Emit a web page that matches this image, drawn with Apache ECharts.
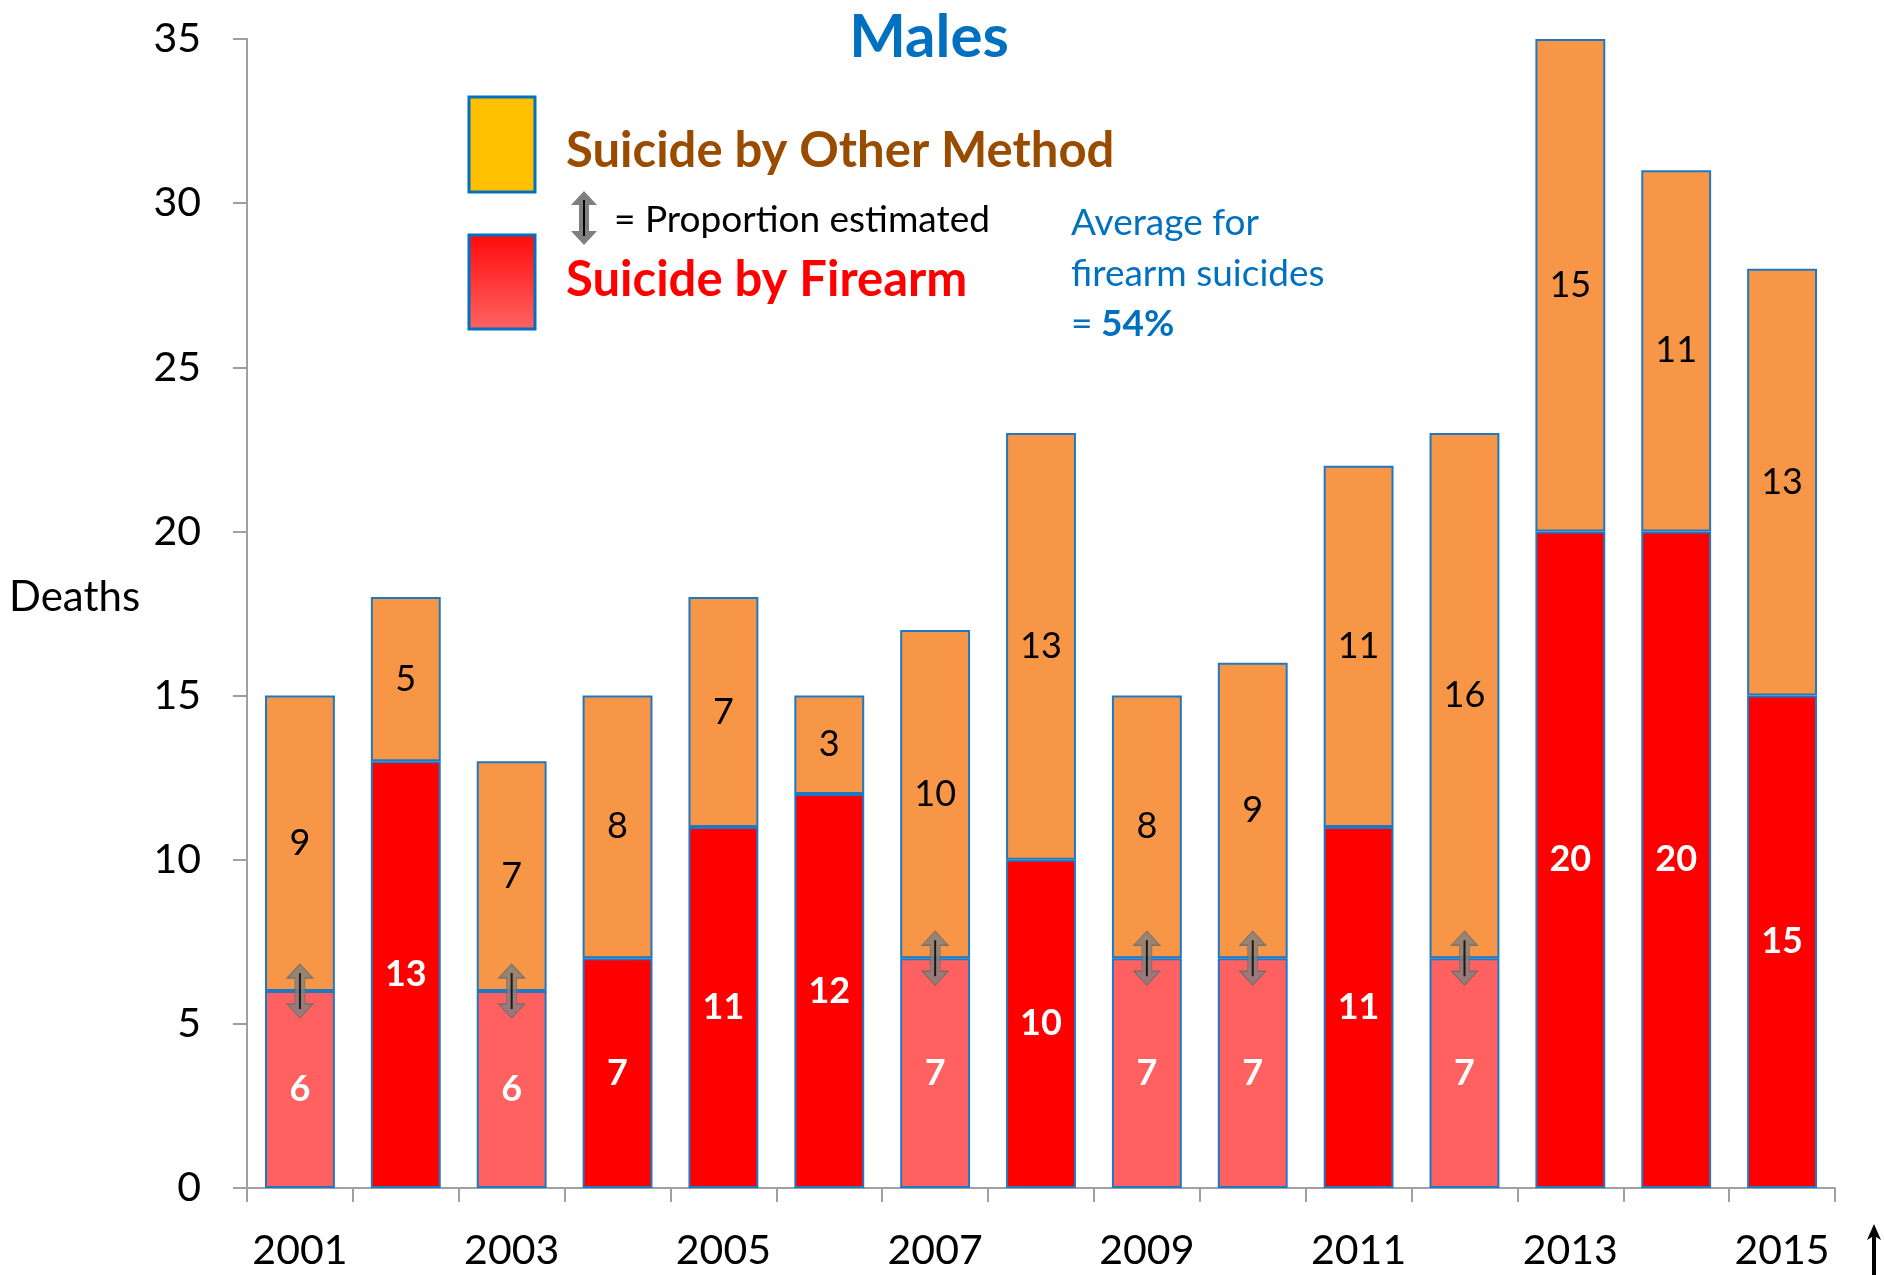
<!DOCTYPE html>
<html>
<head>
<meta charset="utf-8">
<script src="https://cdn.jsdelivr.net/npm/echarts@6/dist/echarts.min.js"></script>
<style>
  html, body { margin: 0; padding: 0; background: #fff; }
  #chart { width: 1884px; height: 1275px; }
</style>
</head>
<body>
<div id="chart"></div>
<script>
// data
const years = ['2001', '2002', '2003', '2004', '2005', '2006', '2007', '2008',
  '2009', '2010', '2011', '2012', '2013', '2014', '2015']
const firearm = [6, 13, 6, 7, 11, 12, 7, 10, 7, 7, 11, 7, 20, 20, 15]
const other = [9, 5, 7, 8, 7, 3, 10, 13, 8, 9, 11, 16, 15, 11, 13]
// years where the firearm proportion was estimated
const estimated = ['2001', '2003', '2007', '2009', '2010', '2012']
const yTicks = [0, 5, 10, 15, 20, 25, 30, 35]

const FONT = 'Lato, "Open Sans", sans-serif'
const BLUE = '#0070C0'
const BORDER = '#1F78C4'

const chart = echarts.init(document.getElementById('chart'))

const firearmData = firearm.map((v, i) => ({
  value: v,
  itemStyle: { color: estimated.includes(years[i]) ? '#FF6060' : '#FF0000' }
}))
const arrowData = estimated.map(y => [y, firearm[years.indexOf(y)]])

const arrowPath = 'path://M13,0 L26,14 L18,14 L18,40 L26,40 L13,54 L0,40 L8,40 L8,14 L0,14 Z'
const linePath = 'path://M0,0 L2,0 L2,36 L0,36 Z'

// legend arrow as polygon points (offset 571,191)
const legendArrow = [[13, 0], [26, 14], [18, 14], [18, 40], [26, 40], [13, 54], [0, 40], [8, 40], [8, 14], [0, 14]]
  .map(p => [p[0] + 571, p[1] + 191])

const option = {
  animation: false,
  textStyle: { fontFamily: FONT },
  grid: { left: 247, top: 39, right: 49, bottom: 87, containLabel: false },
  xAxis: {
    type: 'category',
    data: years,
    axisLine: { lineStyle: { color: '#A0A0A0', width: 2 } },
    axisTick: { show: true, interval: 0, length: 14, lineStyle: { color: '#A0A0A0', width: 2 } },
    axisLabel: { interval: 1, color: '#000', fontSize: 41, margin: 42, fontFamily: FONT }
  },
  yAxis: {
    type: 'value',
    min: 0,
    max: yTicks[yTicks.length - 1],
    interval: 5,
    splitLine: { show: false },
    axisLine: { show: true, lineStyle: { color: '#A0A0A0', width: 2 } },
    axisTick: { show: true, length: 14, lineStyle: { color: '#A0A0A0', width: 2 } },
    axisLabel: { color: '#000', fontSize: 41, margin: 46, fontFamily: FONT }
  },
  series: [
    {
      name: 'Suicide by Firearm',
      type: 'bar',
      stack: 'deaths',
      barCategoryGap: '34%',
      data: firearmData,
      itemStyle: { borderColor: BORDER, borderWidth: 2 },
      label: {
        show: true, position: 'inside', color: '#fff',
        fontWeight: 'bold', fontSize: 36, fontFamily: FONT
      }
    },
    {
      name: 'Suicide by Other Method',
      type: 'bar',
      stack: 'deaths',
      data: other,
      itemStyle: { color: '#F79646', borderColor: BORDER, borderWidth: 2 },
      label: {
        show: true, position: 'inside', color: '#000',
        fontSize: 36, fontFamily: FONT
      }
    },
    {
      type: 'scatter',
      data: arrowData,
      symbol: arrowPath,
      symbolSize: [26, 54],
      itemStyle: { color: '#7F7F7F', borderColor: '#6A6A6A', borderWidth: 1 },
      z: 5
    },
    {
      type: 'scatter',
      data: arrowData,
      symbol: linePath,
      symbolSize: [2, 36],
      itemStyle: { color: '#000' },
      z: 6
    }
  ],
  graphic: [
    {
      type: 'text', x: 929, y: 38,
      style: { text: 'Males', fill: BLUE, font: 'bold 60px ' + FONT, align: 'center', verticalAlign: 'middle' }
    },
    {
      type: 'text', x: 9, y: 597,
      style: { text: 'Deaths', fill: '#000', font: '42px ' + FONT, verticalAlign: 'middle' }
    },
    // legend boxes
    {
      type: 'rect', shape: { x: 469, y: 97, width: 66, height: 95 },
      style: { fill: '#FFC000', stroke: BLUE, lineWidth: 3 }
    },
    {
      type: 'rect', shape: { x: 469, y: 235, width: 66, height: 94 },
      style: {
        fill: new echarts.graphic.LinearGradient(0, 0, 0, 1, [
          { offset: 0, color: '#FF0A0A' },
          { offset: 1, color: '#FF6464' }
        ]),
        stroke: BLUE, lineWidth: 3
      }
    },
    {
      type: 'text', x: 566, y: 151,
      style: { text: 'Suicide by Other Method', fill: '#994C00', font: 'bold 49px ' + FONT, verticalAlign: 'middle' }
    },
    {
      type: 'text', x: 566, y: 280,
      style: { text: 'Suicide by Firearm', fill: '#FF0000', font: 'bold 49px ' + FONT, verticalAlign: 'middle' }
    },
    {
      type: 'polygon', shape: { points: legendArrow },
      style: { fill: '#7F7F7F' }
    },
    {
      type: 'rect', shape: { x: 583, y: 200, width: 2, height: 36 },
      style: { fill: '#000' }
    },
    {
      type: 'text', x: 614, y: 220,
      style: { text: '= Proportion estimated', fill: '#000', font: '37px ' + FONT, verticalAlign: 'middle' }
    },
    {
      type: 'text', x: 1071, y: 223,
      style: { text: 'Average for', fill: BLUE, font: '37px ' + FONT, verticalAlign: 'middle' }
    },
    {
      type: 'text', x: 1071, y: 274,
      style: { text: 'firearm suicides', fill: BLUE, font: '37px ' + FONT, verticalAlign: 'middle' }
    },
    {
      type: 'text', x: 1071, y: 324,
      style: { text: '=', fill: BLUE, font: '37px ' + FONT, verticalAlign: 'middle' }
    },
    {
      type: 'text', x: 1101, y: 324,
      style: { text: '54%', fill: BLUE, font: 'bold 37px ' + FONT, verticalAlign: 'middle' }
    },
    // small arrow cut off at the bottom right corner
    {
      type: 'polygon',
      shape: { points: [[1874, 1224], [1881, 1240], [1876, 1237], [1876, 1275], [1872, 1275], [1872, 1237], [1867, 1240]] },
      style: { fill: '#000' }
    }
  ]
}

chart.setOption(option)
</script>
</body>
</html>
